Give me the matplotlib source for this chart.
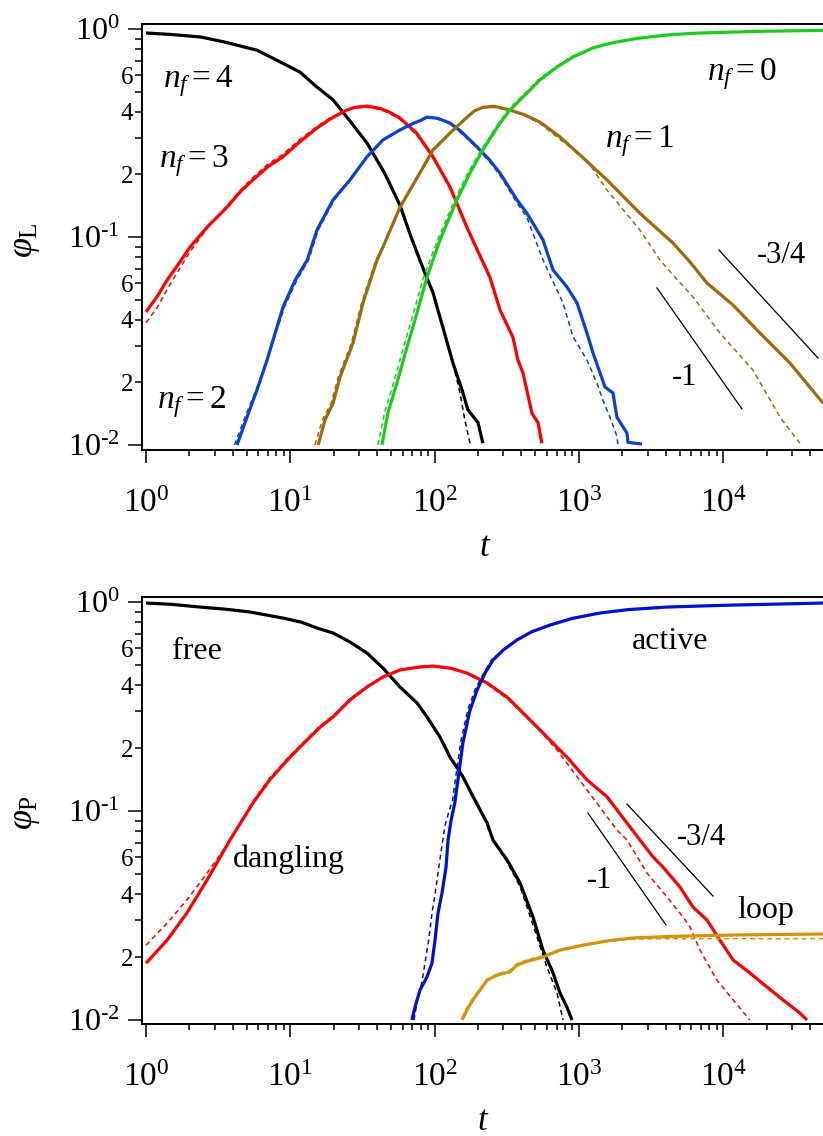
import matplotlib
matplotlib.use("Agg")
import matplotlib.pyplot as plt
from matplotlib.ticker import FixedLocator, FixedFormatter

plt.rcParams['font.family'] = ['Liberation Serif', 'DejaVu Serif']
plt.rcParams['mathtext.fontset'] = 'custom'
plt.rcParams['mathtext.rm'] = 'Liberation Serif'
plt.rcParams['mathtext.it'] = 'Liberation Serif:italic'
plt.rcParams['mathtext.bf'] = 'Liberation Serif:bold'

# ---------------- upper panel: fraction of linkers with n_f free ends ----------------
# n_f = 4
t_L4 = [1, 1.5, 2.4, 3.5, 5.9, 8, 11.7, 15, 19.8, 25, 34, 45, 57.6, 68, 79, 88,
        97.5, 105, 114, 134, 155, 170, 200, 216]
phi_L4_sim = [0.957, 0.941, 0.915, 0.866, 0.79, 0.71, 0.62, 0.532, 0.456, 0.373,
              0.283, 0.203, 0.142, 0.102, 0.0775, 0.064, 0.054, 0.045, 0.0369,
              0.0248, 0.0184, 0.0148, 0.0128, 0.0102]
t_L4_th = [1, 1.5, 2.4, 3.5, 5.9, 8, 11.7, 15, 19.8, 25, 34, 45, 57.6, 68, 79, 88,
           97.5, 105, 114, 134, 150, 162, 176]
phi_L4_th = [0.957, 0.941, 0.915, 0.866, 0.79, 0.71, 0.62, 0.532, 0.456, 0.373,
             0.283, 0.203, 0.142, 0.102, 0.0775, 0.064, 0.054, 0.045, 0.0369,
             0.0248, 0.0178, 0.0132, 0.0102]

# n_f = 3
t_L3 = [1, 1.2, 1.4, 1.7, 2.02, 2.7, 3.64, 4.5, 5.5, 7, 8.9, 11.5, 15.3, 19, 24.7,
        28, 34, 42, 48, 57.6, 75, 97.5, 128, 167, 213, 242, 284, 349, 378, 410, 473,
        521, 555]
phi_L3_sim = [0.0436, 0.052, 0.062, 0.075, 0.0895, 0.113, 0.139, 0.165, 0.188, 0.218,
              0.243, 0.285, 0.334, 0.37, 0.408, 0.42, 0.426, 0.415, 0.4, 0.373,
              0.316, 0.243, 0.174, 0.112, 0.0775, 0.064, 0.0446, 0.033, 0.0256,
              0.0222, 0.0142, 0.0128, 0.0102]
t_L3_th = [1, 1.2, 1.4, 1.7, 2.02, 2.7, 3.64, 4.5, 5.5, 7, 8.9, 11.5, 15.3, 19, 24.7,
           28, 34, 42, 48, 57.6, 75, 97.5, 128, 167, 213, 242, 284, 349, 378, 410,
           473, 521, 545]
phi_L3_th = [0.0387, 0.046, 0.056, 0.07, 0.085, 0.112, 0.141, 0.168, 0.193, 0.224,
             0.25, 0.292, 0.34, 0.375, 0.41, 0.418, 0.42, 0.41, 0.395, 0.368,
             0.31, 0.24, 0.17, 0.11, 0.076, 0.063, 0.045, 0.033, 0.026,
             0.022, 0.0145, 0.0125, 0.0102]

# n_f = 2
t_L2 = [4.27, 5.01, 5.88, 6.9, 8.9, 10.8, 13.1, 15.3, 19.8, 25.9, 34, 43.9, 57.6, 70,
        79, 88.6, 105, 128, 150, 197, 240, 284, 372, 437, 564, 662, 827, 971, 1138,
        1253, 1517, 1723, 1836, 2155, 2188, 2737]
phi_L2_sim = [0.01, 0.0136, 0.0184, 0.0256, 0.046, 0.062, 0.0775, 0.108, 0.151, 0.188,
              0.243, 0.293, 0.327, 0.35, 0.362, 0.377, 0.372, 0.353, 0.325, 0.271,
              0.235, 0.203, 0.151, 0.13, 0.0968, 0.0694, 0.0575, 0.0482, 0.0345,
              0.0277, 0.019, 0.0178, 0.0136, 0.0114, 0.0103, 0.0101]
t_L2_th = [4.1, 4.85, 5.8, 6.9, 9.1, 11.1, 13.4, 15.6, 20.2, 26.2, 34, 43.9, 57.6, 70,
           79, 88.6, 105, 128, 150, 197, 240, 284, 372, 437, 564, 776, 910, 1138,
           1335, 1469, 1643, 1836, 1866]
phi_L2_th = [0.01, 0.0136, 0.0184, 0.0256, 0.046, 0.062, 0.0775, 0.108, 0.151, 0.188,
             0.243, 0.293, 0.327, 0.35, 0.36, 0.375, 0.37, 0.35, 0.32, 0.268, 0.23,
             0.198, 0.146, 0.124, 0.0775, 0.0482, 0.0332, 0.0256, 0.0198, 0.0164,
             0.0136, 0.011, 0.01]

# n_f = 1
t_L1 = [15.6, 17.4, 19.8, 22.1, 27.2, 31.9, 39.9, 43.9, 57.6, 79, 97.5, 128, 168, 190,
        216, 260, 333, 420, 537, 739, 1018, 1566, 2650, 4486, 5890, 7720, 11700,
        18000, 29000, 49200]
phi_L1_sim = [0.01, 0.0132, 0.0159, 0.0212, 0.0309, 0.0482, 0.0775, 0.0895, 0.139,
              0.203, 0.262, 0.316, 0.377, 0.405, 0.42, 0.425, 0.408, 0.387, 0.357,
              0.303, 0.248, 0.188, 0.13, 0.0936, 0.0758, 0.0601, 0.0471, 0.0345,
              0.0248, 0.0159]
t_L1_th = [14.8, 16.7, 19.2, 21.5, 26.5, 31.2, 39.2, 43.5, 57.6, 79, 97.5, 128, 168,
           190, 216, 260, 333, 420, 537, 739, 1138, 1566, 2650, 3650, 4486, 6180,
           9500, 16100, 24800, 34000]
phi_L1_th = [0.01, 0.0132, 0.0159, 0.0212, 0.0309, 0.0482, 0.0775, 0.0895, 0.139,
             0.205, 0.265, 0.318, 0.378, 0.403, 0.418, 0.42, 0.405, 0.383, 0.352,
             0.295, 0.234, 0.168, 0.108, 0.0775, 0.0657, 0.0515, 0.0345, 0.0229,
             0.0136, 0.0102]

# n_f = 0
t_L0 = [43.2, 47.5, 54.9, 64.4, 70.8, 88.6, 97.5, 109, 143, 176, 216, 284, 333, 437,
        537, 705, 910, 1253, 1500, 1836, 2500, 4080, 6500, 11700, 20000, 49200]
phi_L0_sim = [0.01, 0.0143, 0.0199, 0.0296, 0.0369, 0.0642, 0.0775, 0.0968, 0.151,
              0.203, 0.262, 0.353, 0.408, 0.492, 0.569, 0.656, 0.733, 0.811, 0.84,
              0.866, 0.9, 0.936, 0.955, 0.967, 0.976, 0.985]
t_L0_th = [40.5, 45, 52, 61, 67, 84, 93, 105, 138, 170, 210, 278, 325, 430, 530, 700,
           900, 1250, 1500, 1836, 2500, 4080, 6500, 11700, 20000, 49200]
phi_L0_th = [0.01, 0.0143, 0.0199, 0.0296, 0.0369, 0.0642, 0.0775, 0.0968, 0.151,
             0.203, 0.262, 0.353, 0.41, 0.497, 0.575, 0.662, 0.74, 0.816, 0.845,
             0.87, 0.903, 0.938, 0.956, 0.968, 0.977, 0.986]

# ---------------- lower panel: polymer (chain) states ----------------
t_free = [1, 1.5, 2.37, 3.5, 5.26, 8.9, 12, 15.3, 19.8, 25.9, 34, 43.9, 57.6, 75.5,
          88.6, 109, 128, 157, 185, 231, 254, 318, 391, 481, 564, 662, 739, 827, 896]
phi_free_sim = [0.989, 0.975, 0.946, 0.925, 0.896, 0.838, 0.8, 0.751, 0.711, 0.644,
                0.57, 0.483, 0.392, 0.329, 0.282, 0.226, 0.181, 0.146, 0.117, 0.0877,
                0.0726, 0.0583, 0.0453, 0.0311, 0.0216, 0.0168, 0.0135, 0.0115, 0.01]
t_free_th = [1, 1.5, 2.37, 3.5, 5.26, 8.9, 12, 15.3, 19.8, 25.9, 34, 43.9, 57.6, 75.5,
             88.6, 109, 128, 157, 185, 231, 254, 318, 391, 437, 601, 705, 777]
phi_free_th = [0.989, 0.975, 0.946, 0.925, 0.896, 0.838, 0.8, 0.751, 0.711, 0.644,
               0.57, 0.483, 0.392, 0.329, 0.282, 0.226, 0.181, 0.146, 0.117, 0.0877,
               0.0726, 0.057, 0.0435, 0.0347, 0.0179, 0.0135, 0.01]

t_dangling = [1, 1.4, 1.92, 2.65, 3.82, 5.5, 7.2, 9.95, 13.1, 16.1, 19.8, 25.9, 34,
              43.9, 57.6, 79.2, 97.5, 130, 168, 231, 318, 437, 601, 827, 1138, 1566,
              2155, 2650, 3266, 3828, 5020, 6180, 7720, 9500, 11700, 15300, 20100,
              25900, 34000, 38100]
phi_dangling_sim = [0.0187, 0.0241, 0.0325, 0.0468, 0.0727, 0.109, 0.141, 0.181,
                    0.219, 0.252, 0.282, 0.34, 0.392, 0.438, 0.473, 0.489, 0.494,
                    0.482, 0.457, 0.41, 0.351, 0.282, 0.226, 0.181, 0.141, 0.117,
                    0.0876, 0.0727, 0.0603, 0.0539, 0.0433, 0.0347, 0.0301, 0.0241,
                    0.0194, 0.0168, 0.0144, 0.0125, 0.0108, 0.01]
t_dangling_th = [1, 1.4, 1.92, 2.65, 3.64, 5.5, 7.2, 9.95, 13.1, 16.1, 19.8, 25.9, 34,
                 43.9, 57.6, 79.2, 97.5, 130, 168, 231, 318, 481, 705, 971, 1335,
                 1836, 2155, 2966, 4080, 5265, 5890, 6910, 9060, 11700, 15300]
phi_dangling_th = [0.0228, 0.0291, 0.0375, 0.0505, 0.0687, 0.111, 0.144, 0.184,
                   0.222, 0.256, 0.286, 0.344, 0.396, 0.44, 0.474, 0.49, 0.494, 0.48,
                   0.455, 0.405, 0.345, 0.264, 0.196, 0.146, 0.109, 0.0811, 0.0727,
                   0.0505, 0.0388, 0.0311, 0.0279, 0.0216, 0.0155, 0.0125, 0.01]

t_active = [69.7, 73.1, 79.2, 88.6, 95.9, 100.7, 105.6, 112.6, 120, 124, 130, 138,
            147, 157, 175, 197, 225, 254, 300, 372, 470, 631, 900, 1400, 2200, 4080,
            8000, 11700, 20000, 49200]
phi_active_sim = [0.01, 0.0115, 0.0139, 0.0161, 0.0187, 0.0241, 0.0325, 0.0405,
                  0.0539, 0.0727, 0.09, 0.109, 0.15, 0.211, 0.3, 0.379, 0.46, 0.528,
                  0.59, 0.658, 0.72, 0.776, 0.835, 0.886, 0.92, 0.946, 0.96, 0.967,
                  0.975, 0.989]
t_active_th = [72, 76, 81, 86.5, 91, 96, 101, 107, 114, 118, 126, 133, 142, 152, 170,
               192, 222, 250, 300, 372, 470, 631, 900, 1400, 2200, 4080, 8000, 11700,
               20000, 49200]
phi_active_th = [0.01, 0.0125, 0.0147, 0.0194, 0.0241, 0.0325, 0.0405, 0.0539,
                 0.0727, 0.085, 0.1, 0.112, 0.155, 0.215, 0.305, 0.385, 0.465, 0.532,
                 0.592, 0.662, 0.723, 0.78, 0.838, 0.888, 0.921, 0.947, 0.961, 0.968,
                 0.976, 0.989]

t_loop = [155, 168, 185, 206, 231, 271, 333, 372, 437, 564, 739, 1068, 1566, 2372,
          3650, 5265, 11700, 49200]
phi_loop_sim = [0.01, 0.0112, 0.0125, 0.0139, 0.0155, 0.0164, 0.017, 0.0183, 0.0191,
                0.02, 0.0216, 0.0228, 0.0239, 0.0247, 0.025, 0.0252, 0.0255, 0.0258]
phi_loop_th = [0.0103, 0.0115, 0.0128, 0.014, 0.0157, 0.0166, 0.0173, 0.0186, 0.0194,
               0.0203, 0.0218, 0.0229, 0.0238, 0.0244, 0.0245, 0.0245, 0.0245, 0.0245]

# reference power-law slopes: (t_start, t_end), (phi_start, phi_end)
slope_L_34 = ([9350, 45400], [0.0866, 0.0262])
slope_L_1 = ([3477, 13500], [0.0569, 0.0149])
slope_P_34 = ([2155, 8500], [0.108, 0.0392])
slope_P_1 = ([1156, 4017], [0.0978, 0.0285])

x_major = [1, 10, 100, 1000, 10000]
x_major_labels = [r'$10^{0}$', r'$10^{1}$', r'$10^{2}$', r'$10^{3}$', r'$10^{4}$']
y_major = [0.01, 0.1, 1]
y_major_labels = [r'$10^{‐2}$', r'$10^{‐1}$', r'$10^{0}$']

# colours
C_RED = '#ff0000'
C_BLUE = '#0f3fd2'
C_BLUE2 = '#0010cc'
C_BROWN = '#9c6b0c'
C_GREEN = '#1ccc1c'
C_GOLD = '#d4920f'
C_BLACK = '#000000'

W, H = 823, 1136
fig = plt.figure(figsize=(W / 100, H / 100), dpi=100)


def axes_px(x0, y0, x1, y1):
    return fig.add_axes([x0 / W, 1 - y1 / H, (x1 - x0) / W, (y1 - y0) / H])


ax1 = axes_px(142, 24, 823, 450)
ax2 = axes_px(142, 597, 823, 1024)

SOLID = dict(lw=2.3, solid_capstyle='butt', solid_joinstyle='round')
DASH = dict(lw=1.1, dashes=(3.2, 2.4))


def style_axes(ax, ylim):
    ax.set_xscale('log')
    ax.set_yscale('log')
    ax.set_xlim(0.938, 4.92e4)
    ax.set_ylim(*ylim)
    ax.spines['right'].set_visible(False)
    for s in ('left', 'bottom', 'top'):
        ax.spines[s].set_linewidth(1.4)
    ax.xaxis.set_major_locator(FixedLocator(x_major))
    ax.xaxis.set_major_formatter(FixedFormatter(x_major_labels))
    xminor = [k * 10 ** n for n in range(0, 5) for k in range(2, 10) if k * 10 ** n < 4.9e4]
    ax.xaxis.set_minor_locator(FixedLocator(xminor))
    ax.xaxis.set_minor_formatter(FixedFormatter([''] * len(xminor)))
    ax.yaxis.set_major_locator(FixedLocator(y_major))
    ax.yaxis.set_major_formatter(FixedFormatter(y_major_labels))
    yminor = [k * 10.0 ** n for n in (-2, -1) for k in range(2, 10)]
    ylab = [str(k) if k in (2, 4, 6) else '' for n in (-2, -1) for k in range(2, 10)]
    ax.yaxis.set_minor_locator(FixedLocator(yminor))
    ax.yaxis.set_minor_formatter(FixedFormatter(ylab))
    ax.tick_params(axis='both', which='both', direction='out', width=1.1,
                   top=False, right=False)
    ax.tick_params(axis='y', which='major', length=10, pad=6, labelsize=23)
    ax.tick_params(axis='y', which='minor', length=5, pad=1.5, labelsize=18)
    ax.tick_params(axis='x', which='major', length=9.5, pad=18, labelsize=24)
    ax.tick_params(axis='x', which='minor', length=4.5)


style_axes(ax1, (0.00946, 1.057))
style_axes(ax2, (0.00957, 1.057))

# upper panel curves
for t_s, p_s, t_d, p_d, c in [
    (t_L4, phi_L4_sim, t_L4_th, phi_L4_th, C_BLACK),
    (t_L3, phi_L3_sim, t_L3_th, phi_L3_th, C_RED),
    (t_L2, phi_L2_sim, t_L2_th, phi_L2_th, C_BLUE),
    (t_L1, phi_L1_sim, t_L1_th, phi_L1_th, C_BROWN),
    (t_L0, phi_L0_sim, t_L0_th, phi_L0_th, C_GREEN),
]:
    ax1.plot(t_s, p_s, color=c, **SOLID)
    ax1.plot(t_d, p_d, color=c, **DASH)

ax1.plot(*slope_L_34, color='k', lw=0.9)
ax1.plot(*slope_L_1, color='k', lw=0.9)

ANN = dict(fontsize=24, ha='left', va='baseline')
ax1.text(1.31, 0.526, r'$n_f = 4$', **ANN)
ax1.text(1.23, 0.217, r'$n_f = 3$', **ANN)
ax1.text(1.19, 0.0151, r'$n_f = 2$', **ANN)
ax1.text(1517, 0.271, r'$n_f = 1$', **ANN)
ax1.text(7720, 0.569, r'$n_f = 0$', **ANN)
ax1.text(17100, 0.075, '-3/4', fontsize=22, ha='left', va='baseline')
ax1.text(4420, 0.0194, '-1', fontsize=22, ha='left', va='baseline')

# lower panel curves
for t_s, p_s, t_d, p_d, c in [
    (t_free, phi_free_sim, t_free_th, phi_free_th, C_BLACK),
    (t_dangling, phi_dangling_sim, t_dangling_th, phi_dangling_th, C_RED),
    (t_active, phi_active_sim, t_active_th, phi_active_th, C_BLUE2),
    (t_loop, phi_loop_sim, t_loop, phi_loop_th, C_GOLD),
]:
    ax2.plot(t_s, p_s, color=c, **SOLID)
    ax2.plot(t_d, p_d, color=c, **DASH)

ax2.plot(*slope_P_34, color='k', lw=0.9)
ax2.plot(*slope_P_1, color='k', lw=0.9)

LBL = dict(fontsize=23, ha='left', va='baseline')
ax2.text(1.515, 0.533, 'free', **LBL)
ax2.text(2333, 0.596, 'active', **LBL)
ax2.text(4.0, 0.054, 'dangling', **LBL)
ax2.text(12470, 0.0308, 'loop', **LBL)
ax2.text(4790, 0.0688, '-3/4', fontsize=22, ha='left', va='baseline')
ax2.text(1138, 0.0428, '-1', fontsize=22, ha='left', va='baseline')

# axis titles
fig.text(26 / W, 1 - 240 / H, r'$\varphi_{\mathrm{L}}$', fontsize=26, rotation=90,
         ha='center', va='center')
fig.text(26 / W, 1 - 812 / H, r'$\varphi_{\mathrm{P}}$', fontsize=26, rotation=90,
         ha='center', va='center')
fig.text(485 / W, 1 - 556 / H, r'$t$', fontsize=25, ha='center', va='baseline')
fig.text(483 / W, 1 - 1130 / H, r'$t$', fontsize=25, ha='center', va='baseline')

fig.savefig('out.png', dpi=100)
